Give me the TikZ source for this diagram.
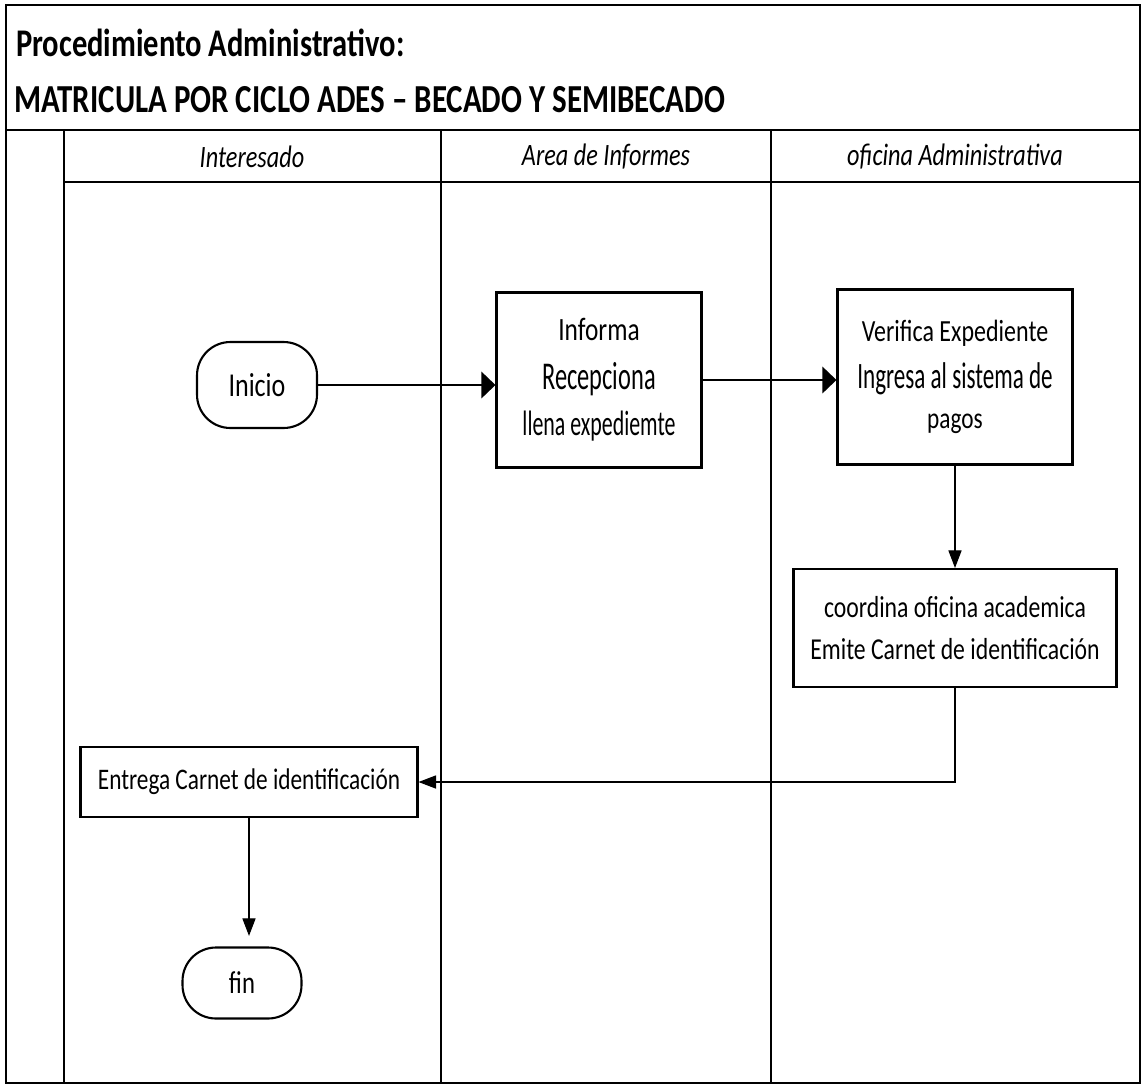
\documentclass[tikz,border=0pt]{standalone}
\usepackage{fontspec}
\setmainfont{Carlito}[FakeStretch=0.78]
\newfontfamily\tallfont{Carlito}[FakeStretch=0.62]
\usetikzlibrary{arrows.meta}
\tikzset{
  frame/.style={line width=1.6pt},
  lane/.style={line width=1.1pt},
  procbox/.style={draw, line width=1.2pt, align=center, inner sep=2pt},
  termbox/.style={draw, line width=1.2pt, rounded corners=19pt, align=center},
  flowthick/.style={line width=1.4pt, -{Triangle[length=8pt, width=15pt]}},
  flowthin/.style={line width=0.6pt, -{Triangle[length=10pt, width=7.5pt]}}
}
\newcommand{\fs}[1]{\fontsize{#1}{#1}\selectfont}
\begin{document}
\begin{tikzpicture}[x=0.02cm, y=-0.02cm]
  \useasboundingbox (0,0) rectangle (1143,1086);
  % frame
  \draw[frame] (6,5) rectangle (1140,1083);
  \draw[frame] (6,130) -- (1140,130);
  \draw[frame] (64,182) -- (1140,182);
  \draw[frame] (64,130) -- (64,1083);
  % lanes
  \draw[lane] (441,130) -- (441,1083);
  \draw[lane] (771,130) -- (771,1083);
  % title
  \node[anchor=west, font=\fs{22.3}\bfseries] (title1) at (10,43) {Procedimiento Administrativo:};
  \node[anchor=west, font=\fs{22.6}\bfseries] (title2) at (8,100) {MATRICULA POR CICLO ADES -- BECADO Y SEMIBECADO};
  % lane headers (x/label)
  \foreach \x/\name in {
    252/Interesado,
    606/Area de Informes,
    955/oficina Administrativa}
  {
    \node[font=\fs{17.7}\itshape] at (\x,157) {\name};
  }
  % nodes
  \node[termbox, minimum width=2.4cm, minimum height=1.72cm, font=\fs{19}] (inicio) at (257,385) {Inicio};
  \node[procbox, minimum width=4.1cm, minimum height=3.5cm] (informa) at (599,380)
    {\fs{18.5}Informa\\[11pt]\tallfont\fs{22.4}Recepciona\\[8pt]\tallfont\fs{20.1}llena expediemte};
  \node[procbox, minimum width=4.7cm, minimum height=3.5cm] (verifica) at (955,377)
    {\fs{17.5}Verifica Expediente\\[8pt]\tallfont\fs{21.2}Ingresa al sistema de\\[11pt]\fs{17}pagos};
  \node[procbox, minimum width=6.46cm, minimum height=2.36cm, font=\fs{17.3}] (coordina) at (955,628)
    {coordina oficina academica\\[7pt]Emite Carnet de identificación};
  \node[procbox, minimum width=6.74cm, minimum height=1.4cm, font=\fs{17}] (entrega) at (249,782)
    {Entrega Carnet de identificación};
  \node[termbox, minimum width=2.38cm, minimum height=1.42cm, font=\fs{18}] (fin) at (242,983) {fin};
  % connectors
  \draw[flowthick] (inicio.east) -- (inicio.east -| informa.west);
  \draw[flowthick] (informa.east) -- (informa.east -| verifica.west);
  \draw[flowthin] (verifica.south) -- (coordina.north);
  \draw[flowthin] (coordina.south) |- (entrega.east);
  \draw[flowthin, shorten >=6pt] (entrega.south) -- (entrega.south |- fin.north);
\end{tikzpicture}
\end{document}
